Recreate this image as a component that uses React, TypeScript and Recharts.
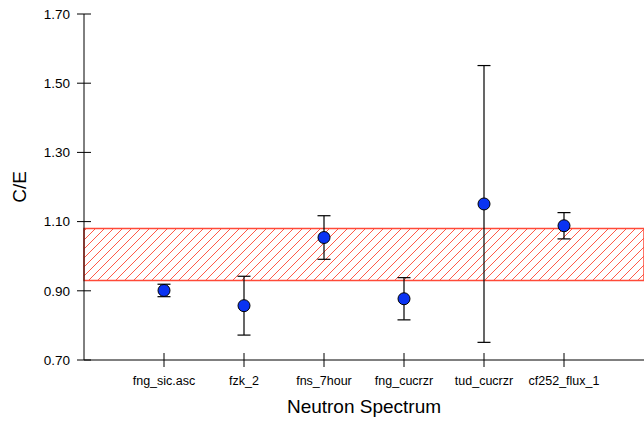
import React from 'react';
import { ComposedChart, Scatter, ErrorBar, XAxis, YAxis, ReferenceArea } from 'recharts';

const categories = ['fng_sic.asc', 'fzk_2', 'fns_7hour', 'fng_cucrzr', 'tud_cucrzr', 'cf252_flux_1'];
const ceValues = [0.901, 0.857, 1.054, 0.877, 1.151, 1.088];
const ceErrors = [0.018, 0.085, 0.063, 0.061, 0.4, 0.038];
const yTicks = [0.7, 0.9, 1.1, 1.3, 1.5, 1.7];
const bandLow = 0.93;
const bandHigh = 1.08;

const data = categories.map((name, i) => ({
  x: i + 1,
  name,
  ce: ceValues[i],
  err: ceErrors[i],
}));

const FONT = '"Liberation Sans", Arial, Helvetica, sans-serif';
const TICK = 7;
const X_MARGIN = 9;
const Y_MARGIN = 7;

const XTick = (props: any) => {
  const { x, y, payload } = props;
  const axisY = y - TICK - X_MARGIN;
  return (
    <g>
      <line x1={x} x2={x} y1={axisY - TICK} y2={axisY + TICK} stroke="#000" strokeWidth={1} />
      <text x={x} y={y} dy="0.71em" textAnchor="middle" fontSize={12.5} fontFamily={FONT} fill="#000">
        {categories[payload.value - 1]}
      </text>
    </g>
  );
};

const YTick = (props: any) => {
  const { x, y, payload } = props;
  const axisX = x + TICK + Y_MARGIN;
  return (
    <g>
      <line x1={axisX - TICK} x2={axisX + TICK} y1={y} y2={y} stroke="#000" strokeWidth={1} />
      <text x={x} y={y} dy="0.355em" textAnchor="end" fontSize={13.5} fontFamily={FONT} fill="#000">
        {payload.value.toFixed(2)}
      </text>
    </g>
  );
};

const Dot = (props: any) => (
  <circle cx={props.cx} cy={props.cy} r={6} fill="#0a33f2" stroke="#000" strokeWidth={1} />
);

export default function App() {
  return (
    <div style={{ position: 'absolute', left: 0, top: 0, background: '#fff' }}>
      <ComposedChart width={644} height={423} data={data} margin={{ top: 14, right: 0, bottom: 0, left: 0 }}>
        <defs>
          <pattern id="hatch" patternUnits="userSpaceOnUse" width={9} height={9}>
            <path d="M0,9 L9,0 M-1,1 L1,-1 M8,10 L10,8" stroke="#ff5a48" strokeWidth={1} />
          </pattern>
        </defs>
        <ReferenceArea
          y1={bandLow}
          y2={bandHigh}
          fill="url(#hatch)"
          fillOpacity={1}
          stroke="#ff4a38"
          strokeWidth={1.5}
          ifOverflow="extendDomain"
        />
        <XAxis
          type="number"
          dataKey="x"
          domain={[0, 7]}
          ticks={[1, 2, 3, 4, 5, 6]}
          height={63}
          stroke="#000"
          tickLine={false}
          tickSize={TICK}
          tickMargin={X_MARGIN}
          tick={XTick}
          interval={0}
          label={{ value: 'Neutron Spectrum', position: 'insideBottom', offset: 10, fontSize: 19, fontFamily: FONT, fill: '#000' }}
        />
        <YAxis
          type="number"
          domain={[0.7, 1.7]}
          ticks={yTicks}
          width={84}
          stroke="#000"
          tickLine={false}
          tickSize={TICK}
          tickMargin={Y_MARGIN}
          tick={YTick}
          interval={0}
          label={{
            content: (p: any) => {
              const vb = p.viewBox || { x: 0, y: 14, width: 84, height: 346 };
              const cx = vb.x + 19;
              const cy = vb.y + vb.height / 2;
              return (
                <text x={cx} y={cy} dy="0.355em" textAnchor="middle" fontSize={19} fontFamily={FONT} fill="#000" transform={`rotate(-90 ${cx} ${cy})`}>
                  C/E
                </text>
              );
            },
          }}
        />
        <Scatter dataKey="ce" isAnimationActive={false} shape={Dot}>
          <ErrorBar dataKey="err" direction="y" width={6.5} stroke="#000" strokeWidth={1.2} />
        </Scatter>
      </ComposedChart>
    </div>
  );
}
